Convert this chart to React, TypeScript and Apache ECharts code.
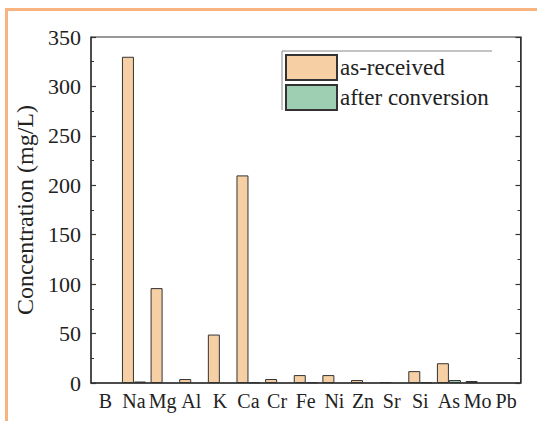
import React, { useEffect, useRef } from "react";
import * as echarts from "echarts";

const categories = ["B", "Na", "Mg", "Al", "K", "Ca", "Cr", "Fe", "Ni", "Zn", "Sr", "Si", "As", "Mo", "Pb"];
const asReceived = [0, 330, 96, 4, 49, 210, 4, 8, 8, 3, 1, 12, 20, 2, 0];
const afterConversion = [0, 1.5, 0, 0, 0, 0.8, 0, 0.8, 0, 0, 0, 0.8, 3, 0, 0];
const seriesNames = ["as-received", "after conversion"];
const yName = "Concentration (mg/L)";

const FONT = "Liberation Serif";

export default function App() {
  const ref = useRef<HTMLDivElement>(null);
  useEffect(() => {
    if (!ref.current) return;
    const chart = echarts.init(ref.current, undefined, { renderer: "svg" });
    const axisColor = "#333";
    const nz = (v: number) => (v === 0 ? null : v);
    chart.setOption({
      animation: false,
      backgroundColor: "#fff",
      grid: {
        left: 91,
        right: 16.5,
        top: 37,
        bottom: 38,
        show: true,
        borderColor: axisColor,
        borderWidth: 1,
      },
      legend: {
        orient: "vertical",
        left: 280,
        top: 49,
        itemWidth: 51,
        itemHeight: 25,
        itemGap: 3,
        icon: "rect",
        textStyle: { fontFamily: FONT, fontSize: 23, color: "#222", padding: [0, 0, 0, -2] },
        data: seriesNames,
      },
      xAxis: {
        type: "category",
        data: categories,
        axisLine: { lineStyle: { color: axisColor, width: 1.5 } },
        axisTick: { show: false },
        axisLabel: { fontFamily: FONT, fontSize: 20, color: "#222", margin: 8, interval: 0 },
      },
      yAxis: [
        {
          type: "value",
          min: 0,
          max: 350,
          interval: 50,
          name: yName,
          nameLocation: "middle",
          nameGap: 49,
          nameTextStyle: { fontFamily: FONT, fontSize: 24, color: "#222" },
          axisLine: { show: true, lineStyle: { color: axisColor, width: 1.5 } },
          axisTick: { show: true, inside: true, length: 5, lineStyle: { color: axisColor, width: 1.2 } },
          minorTick: { show: true, splitNumber: 2, length: 3, lineStyle: { color: axisColor, width: 1 } },
          splitLine: { show: false },
          axisLabel: { fontFamily: FONT, fontSize: 22, color: "#222", margin: 10 },
        },
        {
          type: "value",
          min: 0,
          max: 350,
          interval: 50,
          position: "right",
          axisLine: { show: true, lineStyle: { color: axisColor, width: 1.5 } },
          axisTick: { show: true, inside: true, length: 5, lineStyle: { color: axisColor, width: 1.2 } },
          minorTick: { show: true, splitNumber: 2, length: 3, lineStyle: { color: axisColor, width: 1 } },
          splitLine: { show: false },
          axisLabel: { show: false },
        },
      ],
      series: [
        {
          name: seriesNames[0],
          type: "bar",
          data: asReceived.map(nz),
          barWidth: 12,
          barGap: "0%",
          itemStyle: { color: "#F7CFA4", borderColor: "#333", borderWidth: 1 },
        },
        {
          name: seriesNames[1],
          type: "bar",
          data: afterConversion.map(nz),
          barWidth: 12,
          barGap: "0%",
          itemStyle: { color: "#9ECFB3", borderColor: "#333", borderWidth: 1 },
        },
      ],
      graphic: [
        { type: "rect", shape: { x: 5, y: 8, width: 540, height: 3 }, style: { fill: "#F8B37E" }, silent: true },
        { type: "rect", shape: { x: 5, y: 8, width: 3, height: 420 }, style: { fill: "#F8B37E" }, silent: true },
        { type: "line", shape: { x1: 282, y1: 51, x2: 492, y2: 51 }, style: { stroke: "#888", lineWidth: 1 }, silent: true },
        { type: "line", shape: { x1: 282, y1: 51, x2: 282, y2: 110 }, style: { stroke: "#888", lineWidth: 1 }, silent: true },
      ],
    });
    return () => chart.dispose();
  }, []);
  return (
    <div
      ref={ref}
      style={{ position: "fixed", left: 0, top: 0, width: 537, height: 421 }}
    />
  );
}
